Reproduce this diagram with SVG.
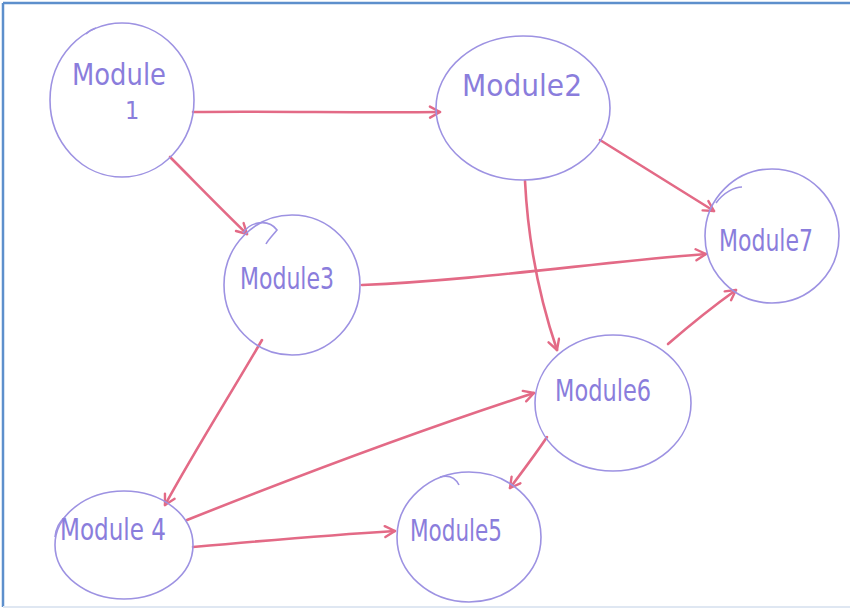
<svg xmlns="http://www.w3.org/2000/svg" width="850" height="610" viewBox="0 0 850 610">
  <style>
    .frame { fill: #ffffff; }
    .node ellipse, .node path { fill: none; stroke: #9d92e2; stroke-width: 1.6; }
    .node text { font-family: "DejaVu Sans Condensed", "DejaVu Sans", sans-serif; font-size: 31px; fill: #8a7ddc; }
    .node text.small { font-size: 25px; }
    .edge { fill: none; stroke: #e36a86; stroke-width: 2.6; stroke-linecap: round; marker-end: url(#arrow); }
  </style>
  <defs>
    <marker id="arrow" viewBox="0 0 14 14" refX="12" refY="7" markerWidth="14" markerHeight="14" markerUnits="userSpaceOnUse" orient="auto">
      <path d="M2,1.5 L12,7 L2,12.5" fill="none" stroke="#e36a86" stroke-width="2.4" stroke-linecap="round" stroke-linejoin="round"/>
    </marker>
  </defs>

  <!-- page frame -->
  <rect class="frame" x="0" y="0" width="850" height="610"/>
  <line x1="3" y1="3" x2="850" y2="3" stroke="#5d8fcc" stroke-width="2.5"/>
  <line x1="3" y1="3" x2="3" y2="607" stroke="#5d8fcc" stroke-width="2.5"/>
  <line x1="3" y1="607" x2="850" y2="607" stroke="#dfe7f2" stroke-width="2"/>

  <!-- connectors -->
  <g id="connectors">
    <path class="edge" d="M193,112 C270,111 360,113 440,112"/>
    <path class="edge" d="M170,157 C195,182 220,208 247,234"/>
    <path class="edge" d="M600,140 C640,165 680,190 714,211"/>
    <path class="edge" d="M362,285 C480,280 600,262 706,254"/>
    <path class="edge" d="M525,181 C528,240 540,300 557,350"/>
    <path class="edge" d="M668,344 C690,325 715,305 736,290"/>
    <path class="edge" d="M262,340 C230,395 195,450 165,505"/>
    <path class="edge" d="M187,520 C300,475 420,430 534,393"/>
    <path class="edge" d="M193,547 C260,541 330,535 395,531"/>
    <path class="edge" d="M547,437 C535,455 522,472 510,488"/>
  </g>

  <!-- nodes -->
  <g id="module1" class="node">
    <ellipse cx="122" cy="100" rx="72" ry="77"/>
    <path d="M86,34 C89,31 92,29 96,28"/>
    <text x="72" y="85" textLength="94" lengthAdjust="spacingAndGlyphs">Module</text>
    <text class="small" x="125" y="119">1</text>
  </g>
  <g id="module2" class="node">
    <ellipse cx="523" cy="108" rx="87" ry="72"/>
    <text x="462" y="96" textLength="120" lengthAdjust="spacingAndGlyphs">Module2</text>
  </g>
  <g id="module3" class="node">
    <ellipse cx="292" cy="285" rx="68" ry="70"/>
    <path d="M243,233 C250,222 268,218 277,230 C272,236 268,240 266,244"/>
    <text x="240" y="289" textLength="94" lengthAdjust="spacingAndGlyphs">Module3</text>
  </g>
  <g id="module7" class="node">
    <ellipse cx="772" cy="236" rx="67" ry="67"/>
    <path d="M716,203 C724,192 735,187 742,187"/>
    <text x="719" y="251" textLength="94" lengthAdjust="spacingAndGlyphs">Module7</text>
  </g>
  <g id="module6" class="node">
    <ellipse cx="613" cy="403" rx="78" ry="68"/>
    <text x="555" y="401" textLength="96" lengthAdjust="spacingAndGlyphs">Module6</text>
  </g>
  <g id="module4" class="node">
    <ellipse cx="124" cy="545" rx="69" ry="54"/>
    <path d="M55,537 C56,527 60,521 65,517"/>
    <text x="60" y="540" textLength="106" lengthAdjust="spacingAndGlyphs">Module 4</text>
  </g>
  <g id="module5" class="node">
    <ellipse cx="469" cy="537" rx="72" ry="65"/>
    <path d="M440,477 C448,475 455,477 459,485"/>
    <text x="410" y="541" textLength="92" lengthAdjust="spacingAndGlyphs">Module5</text>
  </g>
</svg>
